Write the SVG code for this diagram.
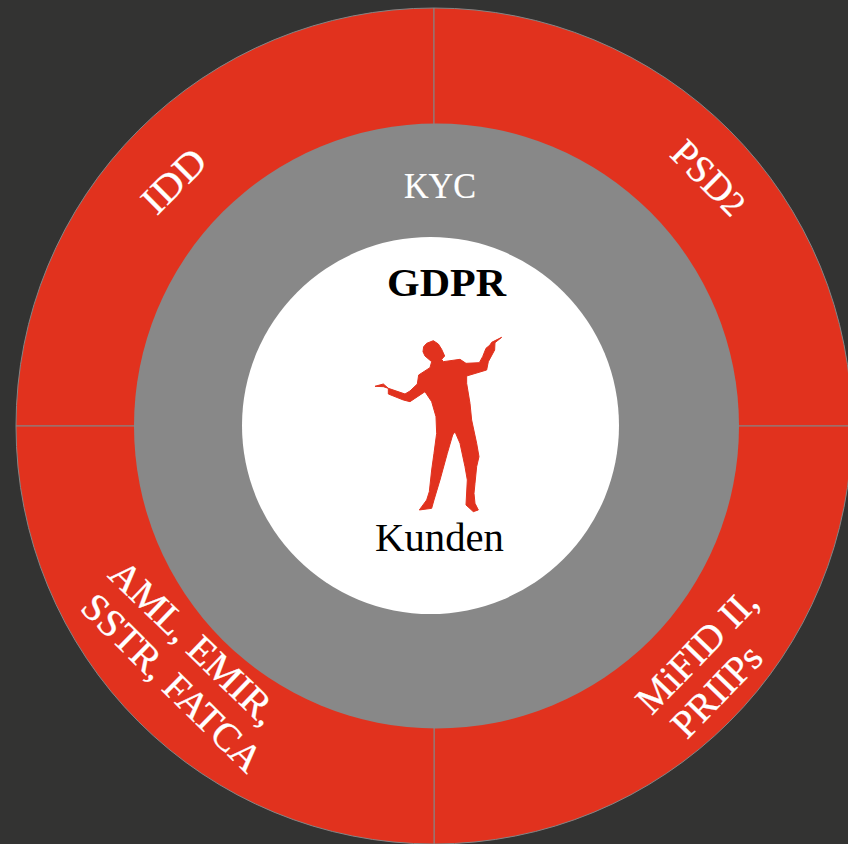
<svg xmlns="http://www.w3.org/2000/svg" width="848" height="844" viewBox="0 0 848 844">
<style>
.q{fill:#e1321e;stroke:#858585;stroke-width:1}
text{font-family:"Liberation Serif","Times New Roman",serif;text-anchor:middle}
.w{fill:#fff;font-size:39px;stroke:#fff;stroke-width:.3}
.k{fill:#000;font-size:39px}
</style>
<rect width="848" height="844" fill="#333332"/>
<g id="idd"><path class="q" d="M434 426V8A418 418 0 0 0 16 426Z"/><text class="w" transform="translate(183 190) rotate(-45)" textLength="74" lengthAdjust="spacingAndGlyphs">IDD</text></g>
<g id="psd2"><path class="q" d="M434 426V8A418 418 0 0 1 852 426Z"/><text class="w" transform="translate(700 187) rotate(45)">PSD<tspan font-size="35">2</tspan></text></g>
<g id="mifid"><path class="q" d="M434 426H852A418 418 0 0 1 434 844Z"/><text class="w" transform="translate(706 660) rotate(-46)" textLength="156" lengthAdjust="spacingAndGlyphs">MiFID II,</text><text class="w" transform="translate(726 700) rotate(-46)" textLength="112" lengthAdjust="spacingAndGlyphs">PRIIPs</text></g>
<g id="aml"><path class="q" d="M434 426V844A418 418 0 0 1 16 426Z"/><text class="w" transform="translate(185 652) rotate(44)" textLength="218" lengthAdjust="spacingAndGlyphs">AML, EMIR,</text><text class="w" transform="translate(163 692) rotate(44.500)" textLength="236" lengthAdjust="spacingAndGlyphs">SSTR, FATCA</text></g>
<g id="kyc"><circle cx="436.500" cy="426" r="302.500" fill="#888"/><text class="w" x="440" y="198" style="font-size:36px;stroke-width:.2" textLength="72" lengthAdjust="spacingAndGlyphs">KYC</text></g>
<g id="gdpr"><circle cx="430.500" cy="425.500" r="188.500" fill="#fff"/><text class="k" x="446.500" y="296" font-weight="700" textLength="119" lengthAdjust="spacingAndGlyphs">GDPR</text></g>
<g id="kunden"><path transform="translate(360 320) scale(.3333)" fill="#e1321e" stroke="#e1321e" stroke-width="3" stroke-linejoin="round" d="M45 199L70 192L85 205L135 222L150 213L172 192L176 165L210 143L215 125L195 108L189 95L191 80L200 70L220 62L235 72L245 88L254 108L245 118L250 125L300 118L318 130L358 128L368 110L378 85L390 75L395 67L425 52L405 68L404 90L385 125L380 150L320 168L320 190L330 250L335 300L350 370L357 410L350 440L345 490L342 520L345 550L355 570L340 575L318 555L322 480L315 440L300 370L285 335L278 345L262 400L240 480L222 540L215 565L178 570L200 540L208 515L215 450L222 400L230 340L228 290L215 245L195 215L150 245L130 240L85 222L85 205L70 200Z"/><text class="k" x="439.500" y="551" textLength="129" lengthAdjust="spacingAndGlyphs">Kunden</text></g>
</svg>
